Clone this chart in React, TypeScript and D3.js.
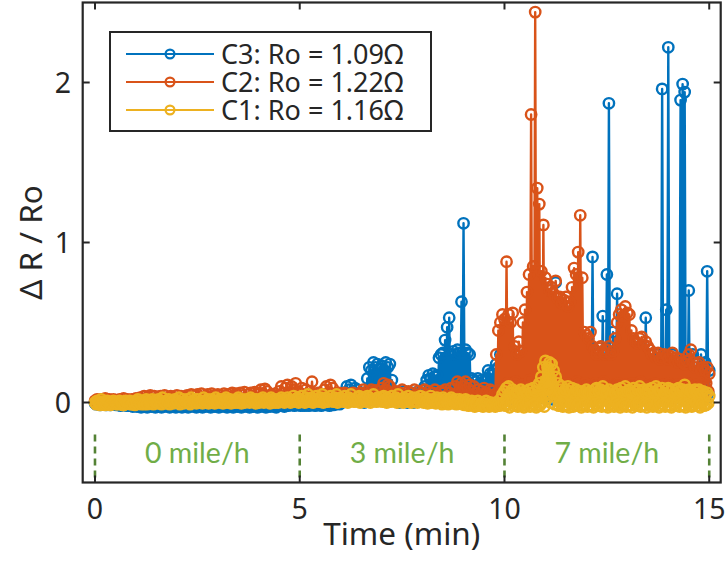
import React from "react";
import * as d3 from "d3";

// Samples every DT/2 min: "Up" arrays hold the even samples (t = start + i*DT),
// "Lo" arrays the odd samples in between (t = start + i*DT + DT/2).
const DT = 0.05;
const segStarts = [0, 5, 10];

// ---------- C3 (blue) ----------
const c3AUp = [
  -0.005, 0.0, -0.01, 0.0, -0.005, -0.01, 0.0, -0.005, -0.01, -0.005,
  0.0, -0.01, -0.005, -0.01, -0.005, -0.01, -0.015, -0.01, -0.015, -0.02,
  -0.015, -0.02, -0.01, -0.02, -0.015, -0.025, -0.015, -0.02, -0.01, -0.02,
  -0.02, -0.015, -0.025, -0.01, -0.02, -0.015, -0.02, -0.025, -0.015, -0.02,
  -0.01, -0.02, -0.015, -0.02, -0.025, -0.015, -0.02, -0.01, -0.02, -0.015,
  -0.02, -0.025, -0.015, -0.02, -0.01, -0.02, -0.015, -0.02, -0.02, -0.015,
  -0.025, -0.015, -0.02, -0.01, -0.02, -0.015, -0.02, -0.025, -0.01, -0.02,
  -0.015, -0.02, -0.01, -0.02, -0.015, -0.02, -0.025, -0.015, -0.02, -0.01,
  -0.02, -0.015, -0.02, -0.01, -0.015, -0.02, -0.01, -0.015, -0.02, -0.01,
  -0.005, -0.015, -0.01, -0.02, -0.01, 0.0, -0.01, -0.015, -0.01, 0.0,
];
const c3ALo = [
  -0.01, -0.005, -0.015, -0.01, -0.005, -0.015, -0.01, -0.015, -0.005, -0.01,
  -0.015, -0.01, -0.02, -0.015, -0.01, -0.02, -0.02, -0.015, -0.025, -0.02,
  -0.025, -0.02, -0.03, -0.02, -0.025, -0.03, -0.02, -0.025, -0.02, -0.03,
  -0.025, -0.02, -0.03, -0.025, -0.02, -0.025, -0.03, -0.02, -0.025, -0.03,
  -0.02, -0.025, -0.03, -0.025, -0.02, -0.03, -0.025, -0.02, -0.025, -0.03,
  -0.025, -0.02, -0.03, -0.025, -0.02, -0.025, -0.03, -0.02, -0.025, -0.02,
  -0.03, -0.025, -0.02, -0.025, -0.03, -0.02, -0.025, -0.03, -0.02, -0.025,
  -0.02, -0.03, -0.025, -0.02, -0.025, -0.03, -0.02, -0.025, -0.02, -0.03,
  -0.025, -0.02, -0.025, -0.03, -0.02, -0.025, -0.02, -0.025, -0.03, -0.02,
  -0.015, -0.02, -0.025, -0.015, -0.02, -0.01, -0.015, -0.02, -0.01, -0.015,
];
const c3BUp = [
  -0.01, 0.0, -0.015, 0.01, -0.01, 0.0, 0.02, -0.01, 0.01, 0.0, -0.01, 0.02, 0.0, 0.01, -0.01, 0.02, 0.01, 0.0, 0.03, 0.01, 0.02, 0.04,
  0.06, 0.1, 0.08, 0.11, 0.07, 0.09, 0.08, 0.05,
  0.04, 0.03, 0.06,
  0.15, 0.22, 0.2, 0.25, 0.22, 0.24, 0.21, 0.23, 0.2, 0.25, 0.22, 0.24, 0.14,
  0.05, 0.04, 0.06, 0.03, 0.05, 0.07, 0.04, 0.05, 0.03, 0.06, 0.05, 0.04, 0.07, 0.06, 0.08, 0.1,
  0.14, 0.17, 0.15, 0.18, 0.16, 0.17,
  0.28, 0.3, 0.31, 0.39, 0.47, 0.53, 0.3, 0.32, 0.3, 0.33, 0.31, 0.63, 1.12, 0.33, 0.31, 0.3,
  0.15, 0.14, 0.13, 0.15, 0.12, 0.14, 0.13, 0.15,
  0.2, 0.18, 0.17, 0.2, 0.24, 0.22, 0.3, 0.25,
];
const c3BLo = [
  -0.02, -0.015, -0.02, -0.01, -0.02, -0.015, -0.01, -0.02, -0.015, -0.01, -0.02, -0.01, -0.015, -0.01, -0.02, -0.01, -0.015, -0.01, 0.0, -0.01, 0.0, 0.01,
  0.02, 0.03, 0.01, 0.03, 0.02, 0.01, 0.02, 0.01,
  0.01, 0.0, 0.02,
  0.04, 0.03, 0.05, 0.02, 0.04, 0.03, 0.05, 0.02, 0.04, 0.03, 0.05, 0.03, 0.02,
  0.01, 0.02, 0.0, 0.02, 0.01, 0.02, 0.0, 0.01, 0.02, 0.0, 0.02, 0.01, 0.02, 0.01, 0.03, 0.02,
  0.03, 0.02, 0.04, 0.03, 0.02, 0.04,
  0.05, 0.03, 0.06, 0.04, 0.02, 0.05, 0.03, 0.06, 0.04, 0.02, 0.05, 0.03, 0.06, 0.04, 0.03, 0.05,
  0.02, 0.04, 0.01, 0.03, 0.02, 0.04, 0.01, 0.03,
  0.03, 0.05, 0.02, 0.04, 0.06, 0.03, 0.05, 0.04,
];
const c3CUp = [
  0.25, 0.15, 0.3, 0.1, 0.2, 0.08, 0.15, 0.05, 0.12, 0.2,
  0.3, 0.15, 0.35, 0.2, 0.4, 0.25, 0.3, 0.45, 0.2, 0.35,
  0.3, 0.45, 0.2, 0.4, 0.25, 0.75, 0.3, 0.2, 0.35, 0.15,
  0.3, 0.2, 0.4, 0.25, 0.15, 0.3, 0.2, 0.35, 0.15, 0.25,
  0.3, 0.2, 0.35, 0.91, 0.25, 0.15, 0.3, 0.2, 0.54, 0.25,
  0.8, 1.87, 0.3, 0.44, 0.2, 0.68, 0.3, 0.4, 0.2, 0.3,
  0.25, 0.35, 0.2, 0.3, 0.15, 0.25, 0.35, 0.2, 0.3, 0.53,
  0.2, 0.3, 0.15, 0.25, 0.2, 0.3, 0.15, 1.96, 0.2, 0.58,
  2.22, 0.25, 0.3, 0.15, 0.25, 0.2, 1.89, 1.99, 1.94, 0.25,
  0.7, 0.2, 0.3, 0.15, 0.25, 0.2, 0.3, 0.15, 0.25, 0.82, 0.2,
];
const c3CLo = [
  0.04, 0.06, 0.02, 0.05, 0.03, 0.07, 0.04, 0.02, 0.06, 0.03,
  0.05, 0.08, 0.03, 0.04, 0.06, 0.02, 0.05, 0.07, 0.03, 0.04,
  0.06, 0.03, 0.05, 0.02, 0.07, 0.04, 0.06, 0.03, 0.05, 0.08,
  0.02, 0.04, 0.06, 0.03, 0.05, 0.07, 0.04, 0.02, 0.06, 0.05,
  0.03, 0.07, 0.04, 0.06, 0.02, 0.05, 0.03, 0.08, 0.04, 0.06,
  0.03, 0.05, 0.07, 0.02, 0.04, 0.06, 0.03, 0.05, 0.08, 0.04,
  0.02, 0.06, 0.03, 0.05, 0.07, 0.04, 0.02, 0.06, 0.05, 0.03,
  0.07, 0.04, 0.06, 0.02, 0.05, 0.03, 0.08, 0.04, 0.06, 0.03,
  0.05, 0.07, 0.02, 0.04, 0.06, 0.03, 0.05, 0.08, 0.04, 0.02,
  0.06, 0.03, 0.05, 0.07, 0.04, 0.06, 0.02, 0.05, 0.03, 0.06,
];

// ---------- C2 (orange) ----------
const c2AUp = [
  0.01, 0.02, 0.0, 0.02, 0.01, 0.025, 0.0, 0.02, 0.01, 0.02, 0.015, 0.0, 0.02, 0.01, 0.025, 0.01, 0.02, 0.0, 0.02, 0.015, 0.025, 0.01,
  0.03, 0.01, 0.04, 0.02, 0.035, 0.045, 0.02, 0.04, 0.01, 0.035, 0.04, 0.02, 0.045, 0.03, 0.02, 0.04, 0.035, 0.01, 0.045, 0.03, 0.04, 0.02, 0.035, 0.045,
  0.03, 0.05, 0.02, 0.045, 0.05, 0.03, 0.055, 0.02, 0.04, 0.05, 0.03, 0.055, 0.04, 0.02, 0.05, 0.045, 0.03, 0.055, 0.04, 0.05,
  0.03, 0.06, 0.04, 0.055, 0.02, 0.06, 0.045, 0.065, 0.03, 0.05, 0.06, 0.04, 0.065, 0.05,
  0.06, 0.08, 0.05, 0.085, 0.07, 0.04,
  0.05, 0.03, 0.055, 0.04,
  0.07, 0.1, 0.06, 0.09, 0.11, 0.05, 0.1, 0.08, 0.12, 0.07,
];
const c2ALo = [
  0.0, 0.01, 0.005, 0.0, 0.01, 0.0, 0.005, 0.01, 0.0, 0.005,
  0.01, 0.0, 0.01, 0.005, 0.0, 0.01, 0.005, 0.0, 0.01, 0.005,
  0.0, 0.01, 0.015, 0.005, 0.01, 0.02, 0.01, 0.005, 0.015, 0.01,
  0.02, 0.005, 0.01, 0.015, 0.02, 0.01, 0.005, 0.015, 0.02, 0.01,
  0.015, 0.005, 0.02, 0.01, 0.015, 0.02, 0.01, 0.015, 0.005, 0.02,
  0.01, 0.015, 0.02, 0.01, 0.005, 0.02, 0.015, 0.01, 0.02, 0.015,
  0.01, 0.02, 0.015, 0.005, 0.02, 0.01, 0.015, 0.02, 0.01, 0.025,
  0.015, 0.02, 0.01, 0.025, 0.015, 0.02, 0.01, 0.02, 0.025, 0.015,
  0.02, 0.03, 0.015, 0.025, 0.02, 0.015, 0.02, 0.01, 0.025, 0.02,
  0.03, 0.02, 0.035, 0.025, 0.03, 0.02, 0.035, 0.03, 0.025, 0.03,
];
const c2BUp = [
  0.06, 0.09, 0.04, 0.08, 0.05, 0.07,
  0.13,
  0.05, 0.03, 0.06, 0.04, 0.05,
  0.08, 0.1, 0.06, 0.11, 0.09, 0.05,
  0.04, 0.06, 0.03, 0.05, 0.06, 0.04, 0.02, 0.05, 0.06, 0.03, 0.05, 0.04,
  0.06, 0.08, 0.05, 0.07, 0.04, 0.08, 0.06, 0.075, 0.05, 0.07,
  0.09, 0.12, 0.08, 0.11, 0.1, 0.06,
  0.05, 0.07, 0.04, 0.06, 0.08, 0.05, 0.03, 0.07, 0.06, 0.04, 0.08, 0.05, 0.07, 0.03, 0.06,
  0.08, 0.05, 0.07, 0.04, 0.06, 0.08, 0.05, 0.03, 0.07, 0.06, 0.08, 0.04, 0.06, 0.09, 0.05,
  0.1, 0.13, 0.08, 0.12, 0.1, 0.13, 0.09, 0.11, 0.07, 0.1,
  0.06, 0.08, 0.05, 0.07, 0.09, 0.06, 0.04, 0.08, 0.07, 0.05,
  0.3, 0.45, 0.5, 0.55,
];
const c2BLo = [
  0.03, 0.02, 0.04, 0.03, 0.02, 0.035, 0.03, 0.02, 0.04, 0.025,
  0.03, 0.02, 0.04, 0.03, 0.035, 0.02, 0.03, 0.025, 0.02, 0.03,
  0.02, 0.03, 0.015, 0.025, 0.03, 0.02, 0.015, 0.03, 0.025, 0.02,
  0.03, 0.04, 0.025, 0.035, 0.02, 0.04, 0.03, 0.035, 0.025, 0.03,
  0.04, 0.05, 0.03, 0.045, 0.04, 0.03,
  0.025, 0.035, 0.02, 0.03, 0.04, 0.025, 0.02, 0.035, 0.03, 0.02, 0.04, 0.025, 0.035, 0.02, 0.03,
  0.04, 0.025, 0.035, 0.02, 0.03, 0.04, 0.025, 0.02, 0.035, 0.03, 0.04, 0.02, 0.03, 0.045, 0.025,
  0.04, 0.05, 0.035, 0.045, 0.04, 0.05, 0.035, 0.045, 0.03, 0.04,
  0.03, 0.035, 0.025, 0.03, 0.04, 0.03, 0.02, 0.035, 0.03, 0.025,
  0.05, 0.08, 0.06, 0.09,
];
const c2CUp = [
  0.52, 0.88, 0.55, 0.5, 0.56, 0.35, 0.3, 0.38, 0.32, 0.5,
  0.58, 0.69, 0.8, 1.8, 0.85, 2.44, 1.34, 1.24, 0.82, 1.11,
  0.78, 0.74, 0.7, 0.72, 0.68, 0.76, 0.65, 0.66, 0.62, 0.64,
  0.66, 0.6, 0.63, 0.72, 0.84, 0.8, 0.94, 1.17, 0.78, 0.44,
  0.42, 0.4, 0.44, 0.35, 0.33, 0.3, 0.34, 0.35, 0.32, 0.3,
  0.33, 0.35, 0.3, 0.32, 0.4, 0.5, 0.55, 0.58, 0.54, 0.6,
  0.56, 0.55, 0.45, 0.4, 0.38, 0.37, 0.4, 0.41, 0.36, 0.38,
  0.35, 0.33, 0.3, 0.31, 0.28, 0.31, 0.27, 0.28, 0.3, 0.29,
  0.27, 0.29, 0.31, 0.26, 0.28, 0.25, 0.27, 0.25, 0.24, 0.26,
  0.3, 0.33, 0.25, 0.22, 0.24, 0.25, 0.2, 0.22, 0.2, 0.22, 0.18,
];
const c2CLo = [
  0.08, 0.12, 0.06, 0.1, 0.07, 0.13, 0.05, 0.09, 0.11, 0.07,
  0.1, 0.06, 0.14, 0.08, 0.11, 0.05, 0.09, 0.12, 0.07, 0.1,
  0.06, 0.13, 0.08, 0.1, 0.05, 0.09, 0.12, 0.07, 0.11, 0.06,
  0.12, 0.08, 0.1, 0.05, 0.09, 0.13, 0.07, 0.1, 0.06, 0.12,
  0.08, 0.11, 0.05, 0.09, 0.12, 0.07, 0.1, 0.06, 0.13, 0.08,
  0.1, 0.05, 0.09, 0.11, 0.07, 0.12, 0.06, 0.1, 0.08, 0.11,
  0.05, 0.09, 0.12, 0.07, 0.1, 0.06, 0.13, 0.08, 0.1, 0.05,
  0.09, 0.11, 0.07, 0.12, 0.06, 0.1, 0.08, 0.11, 0.05, 0.09,
  0.12, 0.07, 0.1, 0.06, 0.11, 0.08, 0.1, 0.05, 0.09, 0.12,
  0.07, 0.1, 0.06, 0.11, 0.08, 0.1, 0.05, 0.09, 0.12, 0.07,
];

// ---------- C1 (yellow) ----------
const c1AUp = [
  0.0, 0.01, -0.01, 0.02, 0.0, -0.015, 0.01, 0.0, -0.01, 0.01,
  0.0, -0.01, 0.01, 0.0, -0.015, 0.01, 0.0, 0.01, -0.01, 0.0,
  0.01, 0.02, 0.0, 0.01, -0.01, 0.02, 0.01, 0.0, 0.02, 0.01,
  0.0, 0.02, 0.01, 0.03, 0.0, 0.01, 0.02, 0.0, 0.01, 0.02,
  0.01, 0.03, 0.0, 0.02, 0.01, 0.02, 0.0, 0.03, 0.01, 0.02,
  0.02, 0.0, 0.01, 0.03, 0.01, 0.02, 0.0, 0.02, 0.01, 0.03,
  0.01, 0.02, 0.0, 0.02, 0.03, 0.01, 0.02, 0.01, 0.0, 0.02,
  0.03, 0.01, 0.02, 0.0, 0.02, 0.01, 0.03, 0.02, 0.01, 0.02,
  0.0, 0.02, 0.03, 0.01, 0.02, 0.01, 0.03, 0.02, 0.0, 0.02,
  0.01, 0.03, 0.02, 0.01, 0.03, 0.02, 0.01, 0.04, 0.02, 0.03,
];
const c1ALo = [
  -0.01, 0.0, -0.015, 0.005, -0.01, -0.005, 0.0, -0.015, -0.005, 0.0,
  -0.01, -0.005, 0.0, -0.015, -0.01, 0.0, -0.005, -0.01, 0.0, -0.015,
  -0.005, 0.0, -0.01, -0.005, 0.005, -0.01, 0.0, -0.005, -0.01, 0.0,
  -0.005, 0.005, -0.01, 0.0, -0.005, 0.005, -0.01, 0.0, -0.005, 0.0,
  0.005, -0.01, 0.0, -0.005, 0.005, 0.0, -0.01, 0.005, 0.0, -0.005,
  0.0, 0.005, -0.005, 0.0, 0.01, -0.005, 0.0, 0.005, -0.005, 0.0,
  0.005, 0.0, -0.005, 0.01, 0.0, 0.005, -0.005, 0.0, 0.01, 0.0,
  0.005, -0.005, 0.0, 0.01, 0.005, 0.0, 0.005, 0.01, -0.005, 0.0,
  0.01, 0.005, 0.0, 0.01, 0.005, -0.005, 0.0, 0.01, 0.005, 0.0,
  0.005, 0.01, 0.0, 0.005, 0.01, 0.0, 0.005, 0.01, 0.005, 0.0,
];
const c1BUp = [
  0.02, 0.04, 0.01, 0.03, 0.05, 0.02, 0.03, 0.01, 0.04, 0.02, 0.03, 0.05, 0.01, 0.03, 0.02, 0.04, 0.01, 0.03, 0.05, 0.02,
  0.03, 0.01, 0.04, 0.02, 0.03, 0.05, 0.02, 0.01, 0.03, 0.04, 0.02, 0.03, 0.01, 0.04, 0.03, 0.02, 0.05, 0.02, 0.03, 0.01,
  0.03, 0.04, 0.02, 0.03, 0.01, 0.04, 0.02, 0.03, 0.05, 0.02, 0.01, 0.03, 0.02, 0.04, 0.02, 0.03, 0.01, 0.03, 0.02, 0.04,
  0.02, 0.03, 0.01, 0.02, 0.04, 0.02, 0.01, 0.03, 0.02, 0.01, 0.03, 0.02, 0.0, 0.02, 0.03, 0.01, 0.02, 0.0, 0.02, 0.01,
  0.0, 0.02, 0.01, -0.01, 0.01, 0.0, -0.01, 0.01, -0.02, 0.0, -0.01, 0.01, -0.02, 0.0, -0.01, -0.02, 0.0, -0.01, 0.02, 0.05,
];
const c1BLo = [
  0.005, 0.01, 0.0, 0.015, 0.005, 0.01, 0.0, 0.015, 0.01, 0.005,
  0.01, 0.0, 0.015, 0.005, 0.01, 0.02, 0.005, 0.01, 0.0, 0.015,
  0.01, 0.005, 0.015, 0.0, 0.01, 0.02, 0.005, 0.01, 0.015, 0.0,
  0.01, 0.015, 0.005, 0.01, 0.0, 0.015, 0.01, 0.005, 0.02, 0.01,
  0.005, 0.015, 0.0, 0.01, 0.005, 0.015, 0.01, 0.0, 0.01, 0.005,
  0.0, 0.01, 0.005, 0.015, 0.0, 0.01, 0.005, 0.0, 0.01, 0.005,
  0.0, 0.005, -0.005, 0.01, 0.0, 0.005, -0.005, 0.0, 0.005, -0.01,
  0.0, 0.005, -0.01, 0.0, -0.005, 0.005, -0.01, 0.0, -0.005, -0.01,
  -0.015, -0.01, -0.02, -0.015, -0.01, -0.025, -0.015, -0.02, -0.01, -0.025,
  -0.02, -0.015, -0.025, -0.01, -0.02, -0.025, -0.015, -0.02, -0.01, 0.0,
];
const c1CUp = [
  0.07, 0.09, 0.1, 0.06, 0.08, 0.05, 0.07, 0.06, 0.08, 0.06,
  0.07, 0.05, 0.08, 0.06, 0.09, 0.07, 0.1, 0.12, 0.16, 0.22,
  0.26, 0.22, 0.25, 0.24, 0.2, 0.16, 0.12, 0.08, 0.1, 0.07,
  0.08, 0.1, 0.07, 0.09, 0.06, 0.08, 0.07, 0.05, 0.07, 0.06,
  0.08, 0.06, 0.07, 0.05, 0.08, 0.09, 0.07, 0.08, 0.1, 0.07,
  0.06, 0.08, 0.05, 0.07, 0.06, 0.08, 0.07, 0.09, 0.06, 0.1,
  0.07, 0.08, 0.06, 0.09, 0.07, 0.08, 0.1, 0.07, 0.08, 0.06,
  0.08, 0.07, 0.09, 0.06, 0.1, 0.08, 0.07, 0.09, 0.06, 0.08,
  0.09, 0.07, 0.08, 0.06, 0.08, 0.09, 0.07, 0.08, 0.11, 0.07,
  0.08, 0.07, 0.06, 0.08, 0.07, 0.08, 0.06, 0.07, 0.05, 0.06, 0.04,
];
const c1CLo = [
  -0.02, -0.01, -0.03, 0.0, -0.02, -0.015, -0.025, -0.01, -0.02, -0.03,
  -0.015, 0.0, -0.025, -0.02, -0.01, -0.03, -0.02, -0.015, 0.0, -0.025,
  0.02, 0.05, 0.0, 0.06, -0.01, 0.03, -0.02, -0.01, -0.025, -0.015,
  -0.02, -0.03, -0.01, -0.025, -0.015, -0.02, 0.0, -0.03, -0.02, -0.01,
  -0.025, -0.015, -0.02, -0.03, -0.01, -0.02, 0.0, -0.025, -0.015, -0.02,
  -0.03, -0.01, -0.02, -0.025, 0.0, -0.015, -0.03, -0.02, -0.01, -0.025,
  -0.02, -0.015, -0.03, -0.01, -0.02, 0.0, -0.025, -0.02, -0.015, -0.03,
  -0.01, -0.02, -0.025, -0.015, 0.0, -0.03, -0.02, -0.01, -0.025, -0.015,
  -0.02, -0.03, -0.01, -0.02, 0.0, -0.025, -0.015, -0.02, -0.03, -0.01,
  -0.02, -0.025, -0.015, 0.0, -0.02, -0.03, -0.01, -0.02, -0.015, -0.005,
];

const seriesNames = ["C3: Ro = 1.09Ω", "C2: Ro = 1.22Ω", "C1: Ro = 1.16Ω"];
const seriesColors = ["#0072BD", "#D95319", "#EDB120"];
const seriesSegments = [
  [[c3AUp, c3ALo], [c3BUp, c3BLo], [c3CUp, c3CLo]],
  [[c2AUp, c2ALo], [c2BUp, c2BLo], [c2CUp, c2CLo]],
  [[c1AUp, c1ALo], [c1BUp, c1BLo], [c1CUp, c1CLo]],
];

const xTicks = [0, 5, 10, 15];
const yTicks = [0, 1, 2];
const phaseBounds = [0, 5, 10, 15];
const phaseLabels = ["0 mile/h", "3 mile/h", "7 mile/h"];

const W = 728;
const H = 563;
const FONT = "'Noto Sans', 'DejaVu Sans', sans-serif";

type Pt = { t: number; v: number };

function buildSeries(segs: number[][][]): Pt[] {
  const out: Pt[] = [];
  segs.forEach(([up, lo], s) => {
    up.forEach((v, i) => {
      out.push({ t: segStarts[s] + i * DT, v });
      if (i < lo.length) out.push({ t: segStarts[s] + i * DT + DT / 2, v: lo[i] });
    });
  });
  return out;
}

export default function App() {
  const x = d3.scaleLinear().domain([-0.3, 15.28]).range([82.7, 720.7]);
  const y = d3.scaleLinear().domain([-0.5, 2.5]).range([482.5, 2.5]);
  const [x0, x1] = x.range();
  const [yb, yt] = y.range();

  const series = seriesSegments.map(buildSeries);
  const line = d3
    .line<Pt>()
    .x((d) => x(d.t))
    .y((d) => y(d.v));

  const tickLen = 7;
  const axisColor = "#262626";

  return (
    <svg
      width={W}
      height={H}
      style={{ position: "absolute", left: 0, top: 0, background: "#fff" }}
      fontFamily={FONT}
    >
      <defs>
        <clipPath id="plotclip">
          <rect x={x0} y={yt} width={x1 - x0} height={yb - yt} />
        </clipPath>
      </defs>
      <rect x={0} y={0} width={W} height={H} fill="#fff" />

      <g clipPath="url(#plotclip)">
        {series.map((pts, k) => (
          <g key={k} stroke={seriesColors[k]} fill="none" strokeWidth={2.4}>
            <path d={line(pts) || ""} strokeLinejoin="round" />
            {pts.map((p, i) => (
              <circle key={i} cx={x(p.t)} cy={y(p.v)} r={5.2} />
            ))}
          </g>
        ))}

        {phaseBounds.map((b) => (
          <line
            key={b}
            x1={x(b)}
            x2={x(b)}
            y1={y(-0.2)}
            y2={y(-0.485)}
            stroke="#548235"
            strokeWidth={2.6}
            strokeDasharray="7 5"
          />
        ))}
        {phaseLabels.map((lab, i) => (
          <text
            key={lab}
            x={x((phaseBounds[i] + phaseBounds[i + 1]) / 2)}
            y={y(-0.375)}
            textAnchor="middle"
            fill="#70AD47"
            fontSize={28.5}
            fontFamily="Lato, 'Open Sans', sans-serif"
          >
            {lab}
          </text>
        ))}
      </g>

      {/* axes box */}
      <rect x={x0} y={yt} width={x1 - x0} height={yb - yt} fill="none" stroke={axisColor} strokeWidth={2.2} />
      {xTicks.map((t) => (
        <g key={"xt" + t} stroke={axisColor} strokeWidth={2}>
          <line x1={x(t)} x2={x(t)} y1={yb} y2={yb - tickLen} />
          <line x1={x(t)} x2={x(t)} y1={yt} y2={yt + tickLen} />
        </g>
      ))}
      {yTicks.map((t) => (
        <g key={"yt" + t} stroke={axisColor} strokeWidth={2}>
          <line x1={x0} x2={x0 + tickLen} y1={y(t)} y2={y(t)} />
          <line x1={x1} x2={x1 - tickLen} y1={y(t)} y2={y(t)} />
        </g>
      ))}
      {xTicks.map((t) => (
        <text key={"xl" + t} x={x(t)} y={519} textAnchor="middle" fontSize={28.5} fill={axisColor}>
          {t}
        </text>
      ))}
      {yTicks.map((t) => (
        <text key={"yl" + t} x={71} y={y(t) + 10.3} textAnchor="end" fontSize={28.5} fill={axisColor}>
          {t}
        </text>
      ))}
      <text x={(x0 + x1) / 2} y={545} textAnchor="middle" fontSize={31.5} fill={axisColor}>
        Time (min)
      </text>
      <text
        transform={`translate(42, ${(yt + yb) / 2}) rotate(-90)`}
        textAnchor="middle"
        fontSize={31.5}
        fill={axisColor}
      >
        Δ R / Ro
      </text>

      {/* legend */}
      <rect x={110} y={32} width={321} height={99} fill="#fff" stroke={axisColor} strokeWidth={2} />
      {seriesNames.map((name, k) => {
        const cy = 54 + k * 28;
        return (
          <g key={name}>
            <line x1={126} x2={214} y1={cy} y2={cy} stroke={seriesColors[k]} strokeWidth={2.2} />
            <circle cx={170} cy={cy} r={4.4} fill="none" stroke={seriesColors[k]} strokeWidth={2.2} />
            <text x={221} y={cy + 10} fontSize={27} fill={axisColor}>
              {name}
            </text>
          </g>
        );
      })}
    </svg>
  );
}
